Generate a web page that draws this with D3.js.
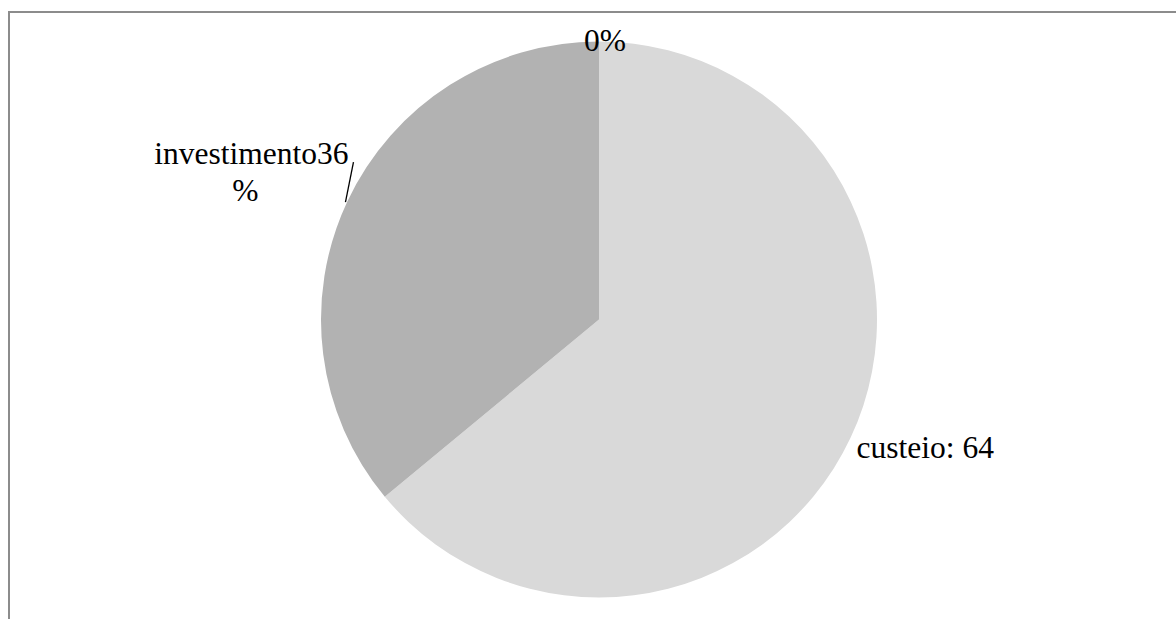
<!DOCTYPE html>
<html>
<head>
<meta charset="utf-8">
<script src="https://cdn.jsdelivr.net/npm/d3@7"></script>
<style>
  html, body { margin: 0; padding: 0; background: #ffffff; }
  svg { display: block; }
  text { font-family: "Liberation Serif", "Times New Roman", serif; fill: #000; }
</style>
</head>
<body>
<svg id="chart" width="1176" height="619"></svg>
<script>
// Budget split: custeio vs investimento (plus an empty category shown as 0%)
const categories = ["custeio", "investimento", "outros"];
const values = [64, 36, 0];
const labelText = ["custeio: 64", ["investimento36", "%"], "0%"];
const colors = ["#d9d9d9", "#b2b2b2", "#b2b2b2"];

const W = 1176, H = 619;
const cx = 599, cy = 319.5, R = 278;

const svg = d3.select("#chart");

// chart area frame (continues past the right and bottom edges)
svg.append("rect")
  .attr("x", 9).attr("y", 12)
  .attr("width", W + 20).attr("height", H + 20)
  .attr("fill", "none")
  .attr("stroke", "#8c8c8c")
  .attr("stroke-width", 2);

const data = categories.map((c, i) => ({ name: c, value: values[i], label: labelText[i], color: colors[i] }));

const pie = d3.pie().value(d => d.value).sort(null);
const arcs = pie(data);

const arc = d3.arc().innerRadius(0).outerRadius(R);

const g = svg.append("g").attr("transform", `translate(${cx},${cy})`);

g.selectAll("path.slice")
  .data(arcs.filter(a => a.endAngle > a.startAngle))
  .join("path")
  .attr("class", "slice")
  .attr("d", arc)
  .attr("fill", d => d.data.color);

const mid = a => (a.startAngle + a.endAngle) / 2;
const polar = (ang, r) => [Math.sin(ang) * r, -Math.cos(ang) * r];

const fontSize = 31.5;

// custeio: label to the right of the slice edge
{
  const a = arcs[0];
  const [x, y] = polar(mid(a), R);
  g.append("text")
    .attr("x", x + 6).attr("y", y + 20)
    .attr("font-size", fontSize)
    .attr("text-anchor", "start")
    .text(a.data.label);
}

// investimento: wrapped label with a short leader line
{
  const a = arcs[1];
  const [x, y] = polar(mid(a), R);
  g.append("line")
    .attr("x1", x - 2).attr("y1", y + 1)
    .attr("x2", x + 6).attr("y2", y - 39)
    .attr("stroke", "#000").attr("stroke-width", 1.3);
  const t = g.append("text")
    .attr("font-size", fontSize)
    .attr("text-anchor", "middle");
  a.data.label.forEach((line, i) => {
    t.append("tspan")
      .attr("x", x - 96 + (i === 1 ? -6 : 0))
      .attr("y", y - 37 + i * 37)
      .text(line);
  });
}

// zero-size category at the top
{
  const a = arcs[2];
  const [x, y] = polar(a.startAngle, R);
  g.append("text")
    .attr("x", x + 6).attr("y", y + 9)
    .attr("font-size", fontSize)
    .attr("text-anchor", "middle")
    .text(a.data.label);
}
</script>
</body>
</html>
